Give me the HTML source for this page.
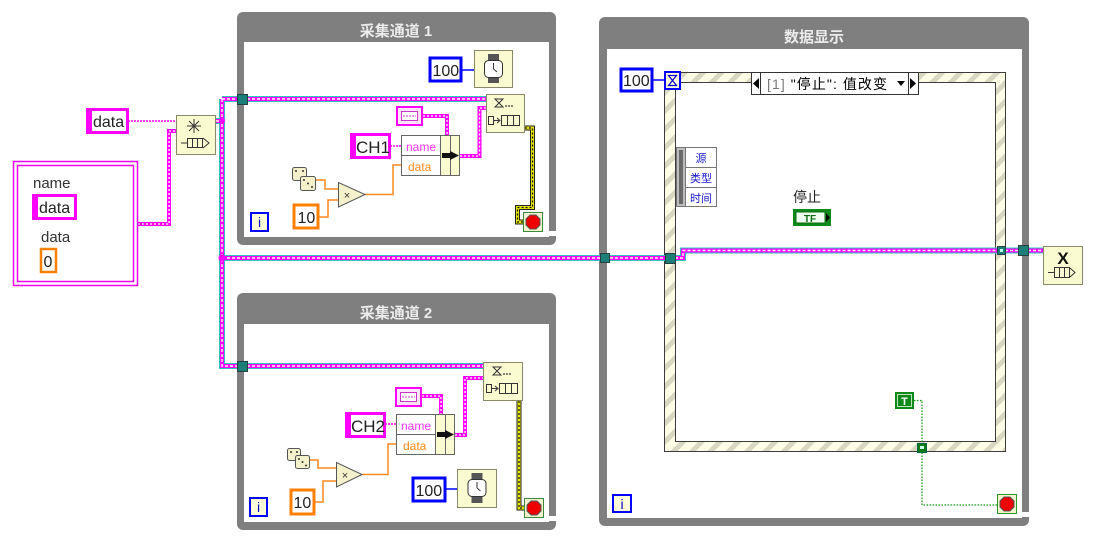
<!DOCTYPE html>
<html><head><meta charset="utf-8">
<style>
html,body{margin:0;padding:0;background:#fff;}
svg{display:block;}
text{font-family:"Liberation Sans","Noto Sans CJK SC",sans-serif;}
</style></head><body>
<svg width="1097" height="538" viewBox="0 0 1097 538" xmlns="http://www.w3.org/2000/svg">
<defs>
<pattern id="hatch" width="13" height="13" patternUnits="userSpaceOnUse" patternTransform="rotate(45)">
<rect width="13" height="13" fill="#fefde6"/>
<rect width="5" height="13" fill="#d8d7c1"/>
</pattern>
</defs>

<!-- ===== Loop frames ===== -->
<rect x="237" y="12" width="319" height="233" rx="6" fill="#7f7f7f"/>
<rect x="244" y="42" width="305" height="195" fill="#fff"/>
<rect x="549" y="231" width="8" height="5" fill="#fff"/>
<text x="396" y="36" font-size="15" font-weight="bold" fill="#ececec" text-anchor="middle">采集通道 1</text>

<rect x="237" y="293" width="319" height="237" rx="6" fill="#7f7f7f"/>
<rect x="244" y="324" width="305" height="198" fill="#fff"/>
<rect x="549" y="516" width="8" height="5" fill="#fff"/>
<text x="396" y="318" font-size="15" font-weight="bold" fill="#ececec" text-anchor="middle">采集通道 2</text>

<rect x="599" y="17" width="430" height="509" rx="6" fill="#7f7f7f"/>
<rect x="607" y="49" width="415" height="469" fill="#fff"/>
<rect x="1022" y="512" width="8" height="5" fill="#fff"/>
<text x="814" y="42" font-size="15" font-weight="bold" fill="#ececec" text-anchor="middle">数据显示</text>

<!-- ===== Event structure ===== -->
<rect x="664.5" y="72.5" width="341" height="379" fill="url(#hatch)" stroke="#3c3c3c"/>
<rect x="675.5" y="82.5" width="320" height="359" fill="#fff" stroke="#3c3c3c"/>
<rect x="751.5" y="72.5" width="167" height="22" fill="#fff" stroke="#333"/>
<line x1="760.5" y1="72.5" x2="760.5" y2="94.5" stroke="#333"/>
<line x1="908.5" y1="72.5" x2="908.5" y2="94.5" stroke="#333"/>
<polygon points="759,78 753,83.5 759,89" fill="#000"/>
<polygon points="910,78 916,83.5 910,89" fill="#000"/>
<polygon points="897,81 905,81 901,86" fill="#000"/>
<text x="767" y="89" font-size="14" textLength="120" lengthAdjust="spacing"><tspan fill="#7a7a7a">[1]</tspan> "停止": 值改变</text>

<!-- event data node -->
<rect x="676.5" y="147.5" width="40" height="59" fill="#fff" stroke="#777"/>
<rect x="677" y="148" width="8" height="58" fill="#bdbdbd"/>
<rect x="679" y="150" width="4" height="54" fill="#6a6a6a"/>
<line x1="685.5" y1="147.5" x2="685.5" y2="206.5" stroke="#777"/>
<line x1="685.5" y1="167.5" x2="716.5" y2="167.5" stroke="#777"/>
<line x1="685.5" y1="187.5" x2="716.5" y2="187.5" stroke="#777"/>
<text x="701" y="162" font-size="11" fill="#1a1ad0" text-anchor="middle">源</text>
<text x="701" y="182" font-size="11" fill="#1a1ad0" text-anchor="middle">类型</text>
<text x="701" y="202" font-size="11" fill="#1a1ad0" text-anchor="middle">时间</text>

<text x="793" y="202" font-size="14" fill="#222">停止</text>
<rect x="793" y="209" width="38" height="17" fill="#0f8a1a"/>
<rect x="796" y="212" width="29" height="11" fill="#f0fff0" stroke="#0a6a10" stroke-width="1"/>
<text x="810" y="222" font-size="10" font-weight="bold" fill="#0a6a10" text-anchor="middle">TF</text>
<polygon points="826,213 830,217.5 826,222" fill="#000"/>

<!-- ===== Wires: queue refnum ===== -->
<g fill="none" stroke-linejoin="miter">
<path d="M216,121 H222 M222,99 V366 H238 M222,99 H238 M247,99 H486 M247,366 H483 M222,258 H601 M610,258 H666 M675,258 H683 V250.5 H998 M1005,250.5 H1019 M1028,250.5 H1043" stroke="#2fc4c4" stroke-width="6"/>
<path d="M216,121 H222 M222,99 V366 H238 M222,99 H238 M247,99 H486 M247,366 H483 M222,258 H601 M610,258 H666 M675,258 H683 V250.5 H998 M1005,250.5 H1019 M1028,250.5 H1043" stroke="#ff00ff" stroke-width="4"/>
<path d="M216,121 H222 M222,99 V366 H238 M222,99 H238 M247,99 H486 M247,366 H483 M222,258 H601 M610,258 H666 M675,258 H683 V250.5 H998 M1005,250.5 H1019 M1028,250.5 H1043" stroke="#fff" stroke-width="1.4" stroke-dasharray="3 2"/>
</g>
<circle cx="222" cy="258" r="3.5" fill="#ff00ff"/>
<circle cx="222" cy="121" r="3" fill="#ff00ff"/>

<g fill="none">
<path d="M138,224 H169 V131 H176 M423,116 H447 V135 M460,156 H479.5 V108 H486 M422,396 H441 V414 M455,435 H465 V378 H483" stroke="#ff00ff" stroke-width="4"/>
<path d="M138,224 H169 V131 H176 M423,116 H447 V135 M460,156 H479.5 V108 H486 M422,396 H441 V414 M455,435 H465 V378 H483" stroke="#fff" stroke-width="1.3" stroke-dasharray="2 2"/>
</g>
<g fill="none" stroke="#ff00ff" stroke-width="1.5" stroke-dasharray="2 1">
<path d="M128,121 H176"/>
<path d="M390,146 H401"/>
<path d="M385,424 H396"/>
</g>
<g fill="none" stroke="#ff8a1e" stroke-width="1.5">
<path d="M316,180 H325 V189 H338"/>
<path d="M319,217 H328 V200 H338"/>
<path d="M365,194.5 H393 V165 H401"/>
<path d="M310,460 H318 V468 H336"/>
<path d="M315,502 H323 V481 H336"/>
<path d="M362,474.5 H388 V444 H396"/>
</g>
<g stroke="#0000ff" stroke-width="1.5">
<line x1="462" y1="70" x2="474" y2="70"/>
<line x1="446" y1="489" x2="457" y2="489"/>
<line x1="653" y1="80" x2="664" y2="80"/>
</g>
<g fill="none">
<path d="M525,128 H532.5 V207.5 H517.5 V222 H523 M519,401 V508 H524" stroke="#222" stroke-width="5"/>
<path d="M525,128 H532.5 V207.5 H517.5 V222 H523 M519,401 V508 H524" stroke="#e4e400" stroke-width="3"/>
<path d="M525,128 H532.5 V207.5 H517.5 V222 H523 M519,401 V508 H524" stroke="#111" stroke-width="1.2" stroke-dasharray="2 2"/>
</g>
<path d="M914,400.5 H922 V505 H997" fill="none" stroke="#0a9a0a" stroke-width="1.2" stroke-dasharray="1.5 1.5"/>

<!-- ===== Tunnels ===== -->
<g fill="#1b7f78" stroke="#25403e" stroke-width="1">
<rect x="237.5" y="94.5" width="10" height="10"/>
<rect x="237.5" y="361.5" width="10" height="10"/>
<rect x="600.5" y="253.5" width="9" height="9"/>
<rect x="665.5" y="253.5" width="10" height="10"/>
<rect x="997.5" y="246.5" width="8" height="8"/>
<rect x="1018.5" y="245.5" width="10" height="10"/>
</g>
<rect x="1000" y="249" width="3" height="3" fill="#bfe"/>
<rect x="917.5" y="443.5" width="9" height="9" fill="#0a7a14" stroke="#064" stroke-width="1"/>
<rect x="920" y="446" width="4" height="3" fill="#cfe"/>

<!-- ===== Left side constants ===== -->
<rect x="87.5" y="109.5" width="40" height="23" fill="#fff" stroke="#ff00ff" stroke-width="3"/>
<rect x="86" y="108" width="6" height="26" fill="#ff00ff"/>
<text x="93" y="127" font-size="16" fill="#222">data</text>

<rect x="13.5" y="161.5" width="124" height="124" fill="#fff" stroke="#f000f0" stroke-width="1.5"/>
<rect x="17.5" y="165.5" width="116" height="116" fill="none" stroke="#f000f0" stroke-width="1.5"/>
<text x="33" y="188" font-size="15" fill="#333">name</text>
<rect x="33.5" y="195.5" width="42" height="23" fill="#fff" stroke="#ff00ff" stroke-width="3"/>
<rect x="32" y="194" width="6" height="26" fill="#ff00ff"/>
<text x="39" y="213" font-size="16" fill="#222">data</text>
<text x="41" y="242" font-size="15" fill="#333">data</text>
<rect x="41" y="249" width="15" height="23" fill="#fff" stroke="#ff8000" stroke-width="2.5"/>
<text x="43.5" y="267" font-size="16" fill="#222">0</text>

<!-- Obtain queue node -->
<rect x="176.5" y="115.5" width="39" height="39" fill="#fbfbd2" stroke="#8a8a6a"/>
<g stroke="#333" stroke-width="1">
<line x1="194" y1="119" x2="194" y2="133"/>
<line x1="187" y1="126" x2="201" y2="126"/>
<line x1="189" y1="121" x2="199" y2="131"/>
<line x1="199" y1="121" x2="189" y2="131"/>
<line x1="181" y1="143" x2="187" y2="143"/>
<rect x="187.5" y="138.5" width="15" height="9" fill="none"/>
<line x1="192.5" y1="138.5" x2="192.5" y2="147.5"/>
<line x1="197.5" y1="138.5" x2="197.5" y2="147.5"/>
<polyline points="203,138 209,143 203,148" fill="none"/>
</g>

<!-- ===== Loop 1 contents ===== -->
<rect x="430" y="58" width="31" height="23" fill="#fff" stroke="#0000ff" stroke-width="3"/>
<text x="432.5" y="76" font-size="16" fill="#222">100</text>
<rect x="474.5" y="50.5" width="38" height="37" fill="#fbfbd2" stroke="#8a8a6a"/>
<rect x="488" y="54" width="11" height="29" fill="#555"/>
<rect x="484.5" y="60.5" width="18" height="17" rx="4" fill="#fff" stroke="#333"/>
<line x1="493.5" y1="63" x2="493.5" y2="69" stroke="#333"/>
<line x1="493.5" y1="69" x2="497" y2="72" stroke="#333"/>
<rect x="486.5" y="94.5" width="38" height="38" fill="#fbfbd2" stroke="#8a8a6a"/>
<g stroke="#333" stroke-width="1" fill="none">
<polygon points="495,99 503,99 499,103 503,107 495,107 499,103"/>
<rect x="488.5" y="116.5" width="5" height="8"/>
<line x1="494" y1="120.5" x2="499" y2="120.5"/>
<polyline points="497,118 500,120.5 497,123"/>
<rect x="501.5" y="115.5" width="18" height="10"/>
<line x1="507.5" y1="115.5" x2="507.5" y2="125.5"/>
<line x1="513.5" y1="115.5" x2="513.5" y2="125.5"/>
</g>
<circle cx="506" cy="106" r="0.9" fill="#333"/><circle cx="509" cy="106" r="0.9" fill="#333"/><circle cx="512" cy="106" r="0.9" fill="#333"/>
<rect x="397" y="107" width="25" height="18" fill="#fde6fd" stroke="#ff00ff" stroke-width="2"/>
<rect x="401.5" y="111.5" width="16" height="9" fill="#fff" stroke="#cc33cc" stroke-width="1"/>
<line x1="403" y1="116" x2="416" y2="116" stroke="#cc33cc" stroke-width="1" stroke-dasharray="2 1"/>
<rect x="351.5" y="134.5" width="38" height="23" fill="#fff" stroke="#ff00ff" stroke-width="3"/>
<rect x="350" y="133" width="6" height="26" fill="#ff00ff"/>
<text x="356" y="153" font-size="17" fill="#222">CH1</text>
<rect x="401.5" y="135.5" width="58" height="40" fill="#fff" stroke="#666"/>
<rect x="440" y="136" width="19" height="39" fill="#fbfbd2"/>
<line x1="440.5" y1="135.5" x2="440.5" y2="175.5" stroke="#666"/>
<line x1="450.5" y1="135.5" x2="450.5" y2="175.5" stroke="#666"/>
<line x1="401.5" y1="155.5" x2="440.5" y2="155.5" stroke="#666"/>
<text x="406" y="151" font-size="12" fill="#ff33ff">name</text>
<text x="408" y="171" font-size="12" fill="#ff8a1e">data</text>
<rect x="442" y="153" width="8" height="5" fill="#111"/>
<polygon points="450,151 459,155.5 450,160" fill="#111"/>
<rect x="292.5" y="167.5" width="14" height="13" rx="2" fill="#f4f1cc" stroke="#555"/>
<rect x="300.5" y="176.5" width="15" height="14" rx="2" fill="#f4f1cc" stroke="#555"/>
<circle cx="296" cy="171" r="1" fill="#333"/><circle cx="303" cy="171" r="1" fill="#333"/>
<circle cx="304" cy="180" r="1" fill="#333"/><circle cx="308" cy="183.5" r="1" fill="#333"/><circle cx="312" cy="187" r="1" fill="#333"/>
<polygon points="338.5,182.5 338.5,207 365,194.5" fill="#f4f1cc" stroke="#555"/>
<text x="347" y="199" font-size="11" fill="#333" text-anchor="middle">×</text>
<rect x="294" y="205" width="24" height="23" fill="#fff" stroke="#ff8000" stroke-width="3"/>
<text x="297.5" y="223" font-size="16" fill="#222">10</text>
<rect x="251" y="213" width="17" height="18" fill="#fefcd8" stroke="#0000ff" stroke-width="2"/>
<text x="259.5" y="227" font-size="14" fill="#0000cc" text-anchor="middle">i</text>
<rect x="523.5" y="212.5" width="19" height="19" fill="#f7f3d0" stroke="#3a8a3a"/>
<polygon points="530,215 536,215 540,219 540,225 536,229 530,229 526,225 526,219" fill="#ee0000" stroke="#555" stroke-width="1"/>

<!-- ===== Loop 2 contents ===== -->
<rect x="483.5" y="362.5" width="39" height="38" fill="#fbfbd2" stroke="#8a8a6a"/>
<g stroke="#333" stroke-width="1" fill="none">
<polygon points="493,367 501,367 497,371 501,375 493,375 497,371"/>
<rect x="486.5" y="384.5" width="5" height="8"/>
<line x1="492" y1="388.5" x2="497" y2="388.5"/>
<polyline points="495,386 498,388.5 495,391"/>
<rect x="499.5" y="383.5" width="18" height="10"/>
<line x1="505.5" y1="383.5" x2="505.5" y2="393.5"/>
<line x1="511.5" y1="383.5" x2="511.5" y2="393.5"/>
</g>
<circle cx="504" cy="374" r="0.9" fill="#333"/><circle cx="507" cy="374" r="0.9" fill="#333"/><circle cx="510" cy="374" r="0.9" fill="#333"/>
<rect x="396" y="388" width="25" height="18" fill="#fde6fd" stroke="#ff00ff" stroke-width="2"/>
<rect x="400.5" y="392.5" width="16" height="9" fill="#fff" stroke="#cc33cc" stroke-width="1"/>
<line x1="402" y1="397" x2="415" y2="397" stroke="#cc33cc" stroke-width="1" stroke-dasharray="2 1"/>
<rect x="346.5" y="413.5" width="38" height="23" fill="#fff" stroke="#ff00ff" stroke-width="3"/>
<rect x="345" y="412" width="6" height="26" fill="#ff00ff"/>
<text x="351" y="432" font-size="17" fill="#222">CH2</text>
<rect x="396.5" y="414.5" width="58" height="40" fill="#fff" stroke="#666"/>
<rect x="435" y="415" width="19" height="39" fill="#fbfbd2"/>
<line x1="435.5" y1="414.5" x2="435.5" y2="454.5" stroke="#666"/>
<line x1="445.5" y1="414.5" x2="445.5" y2="454.5" stroke="#666"/>
<line x1="396.5" y1="434.5" x2="435.5" y2="434.5" stroke="#666"/>
<text x="401" y="430" font-size="12" fill="#ff33ff">name</text>
<text x="403" y="450" font-size="12" fill="#ff8a1e">data</text>
<rect x="437" y="432" width="8" height="5" fill="#111"/>
<polygon points="445,430 454,434.5 445,439" fill="#111"/>
<rect x="287.5" y="448.5" width="13" height="12" rx="2" fill="#f4f1cc" stroke="#555"/>
<rect x="295.5" y="455.5" width="14" height="13" rx="2" fill="#f4f1cc" stroke="#555"/>
<circle cx="291" cy="452" r="1" fill="#333"/><circle cx="297" cy="452" r="1" fill="#333"/>
<circle cx="299" cy="459" r="1" fill="#333"/><circle cx="302.5" cy="462" r="1" fill="#333"/><circle cx="306" cy="465.5" r="1" fill="#333"/>
<polygon points="336.5,462.5 336.5,487 362,474.5" fill="#f4f1cc" stroke="#555"/>
<text x="345" y="479" font-size="11" fill="#333" text-anchor="middle">×</text>
<rect x="291" y="490" width="23" height="24" fill="#fff" stroke="#ff8000" stroke-width="3"/>
<text x="293.5" y="508" font-size="16" fill="#222">10</text>
<rect x="413" y="478" width="32" height="23" fill="#fff" stroke="#0000ff" stroke-width="3"/>
<text x="415.5" y="496" font-size="16" fill="#222">100</text>
<rect x="457.5" y="469.5" width="39" height="38" fill="#fbfbd2" stroke="#8a8a6a"/>
<rect x="471.5" y="473" width="11" height="30" fill="#555"/>
<rect x="468" y="479.5" width="18" height="17" rx="4" fill="#fff" stroke="#333"/>
<line x1="477" y1="482" x2="477" y2="488" stroke="#333"/>
<line x1="477" y1="488" x2="480.5" y2="491" stroke="#333"/>
<rect x="250" y="498" width="17" height="18" fill="#fefcd8" stroke="#0000ff" stroke-width="2"/>
<text x="258.5" y="512" font-size="14" fill="#0000cc" text-anchor="middle">i</text>
<rect x="524.5" y="498.5" width="19" height="19" fill="#f7f3d0" stroke="#3a8a3a"/>
<polygon points="531,501 537,501 541,505 541,511 537,515 531,515 527,511 527,505" fill="#ee0000" stroke="#555" stroke-width="1"/>

<!-- ===== Loop 3 contents ===== -->
<rect x="621" y="69" width="31" height="22" fill="#fff" stroke="#0000ff" stroke-width="3"/>
<text x="623" y="86" font-size="16" fill="#222">100</text>
<rect x="665" y="72" width="15" height="17" fill="#fefcd8" stroke="#0000ff" stroke-width="2"/>
<polygon points="668.5,75.5 676.5,75.5 672.5,80.5 676.5,85.5 668.5,85.5 672.5,80.5" fill="none" stroke="#0000cc" stroke-width="1.2"/>
<rect x="895" y="392" width="19" height="17" fill="#0f8a1a"/>
<rect x="897.5" y="394.5" width="14" height="12" fill="none" stroke="#bfe8bf" stroke-width="1"/>
<text x="904.5" y="405" font-size="11" font-weight="bold" fill="#fff" text-anchor="middle">T</text>
<rect x="997.5" y="494.5" width="19" height="19" fill="#f7f3d0" stroke="#2a9a2a"/>
<polygon points="1004,497 1010,497 1014,501 1014,507 1010,511 1004,511 1000,507 1000,501" fill="#ee0000" stroke="#555" stroke-width="1"/>
<rect x="613" y="495" width="18" height="17" fill="#fefcd8" stroke="#0000ff" stroke-width="2"/>
<text x="622" y="509" font-size="14" fill="#0000cc" text-anchor="middle">i</text>

<!-- Release queue -->
<rect x="1043.5" y="246.5" width="39" height="38" fill="#fbfbd2" stroke="#8a8a6a"/>
<text x="1063" y="264" font-size="17" font-weight="bold" fill="#111" text-anchor="middle">X</text>
<g stroke="#333" stroke-width="1" fill="none">
<line x1="1048" y1="272.5" x2="1054" y2="272.5"/>
<rect x="1054.5" y="267.5" width="15" height="10"/>
<line x1="1059.5" y1="267.5" x2="1059.5" y2="277.5"/>
<line x1="1064.5" y1="267.5" x2="1064.5" y2="277.5"/>
<polyline points="1070,268 1075,272.5 1070,277"/>
</g>
</svg>
</body></html>
